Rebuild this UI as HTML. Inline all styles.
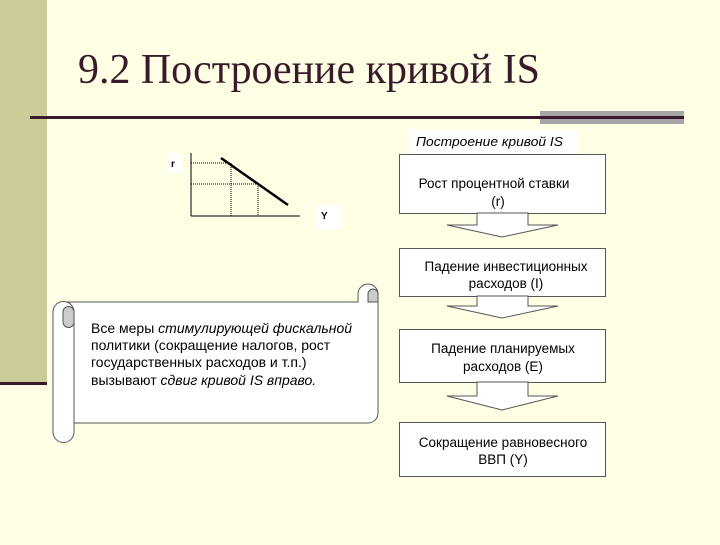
<!DOCTYPE html>
<html><head><meta charset="utf-8"><style>
body{margin:0;width:720px;height:540px;background:#FFFFE5;overflow:hidden;font-family:"Liberation Sans",sans-serif}
</style></head><body>
<svg width="720" height="540" xmlns="http://www.w3.org/2000/svg" font-family="Liberation Sans, sans-serif">
<rect x="0" y="0" width="47" height="383" fill="#CCCC99"/>
<rect x="0" y="382" width="47" height="3" fill="#3A1A2A"/>
<text x="78" y="83" font-family="Liberation Serif, serif" font-size="42" fill="#3A1A2A" textLength="462" lengthAdjust="spacingAndGlyphs">9.2 Построение кривой IS</text>
<rect x="540" y="111" width="144" height="13" fill="#A6A6A6"/>
<rect x="30" y="116" width="654" height="3" fill="#3A1A2A"/>
<rect x="167" y="153" width="15" height="20" fill="#fff"/>
<text x="171" y="167" font-size="10" font-weight="bold">r</text>
<rect x="315" y="205" width="26" height="24" fill="#fff"/>
<text x="321" y="219" font-size="10" font-weight="bold">Y</text>
<line x1="191" y1="153" x2="191" y2="216" stroke="#000"/>
<line x1="191" y1="216" x2="300" y2="216" stroke="#000"/>
<line x1="191" y1="163" x2="231" y2="163" stroke="#000" stroke-dasharray="1,1"/>
<line x1="191" y1="184" x2="258" y2="184" stroke="#000" stroke-dasharray="1,1"/>
<line x1="231" y1="163" x2="231" y2="216" stroke="#000" stroke-dasharray="1,1"/>
<line x1="258" y1="184" x2="258" y2="216" stroke="#000" stroke-dasharray="1,1"/>
<line x1="221" y1="158" x2="288" y2="205" stroke="#000" stroke-width="2.5"/>
<rect x="410" y="130" width="168" height="24" fill="#fff"/>
<text x="416" y="146" font-size="13" font-style="italic" textLength="147" lengthAdjust="spacingAndGlyphs">Построение кривой IS</text>
<g fill="#fff" stroke="#555" stroke-width="1">
<rect x="399.5" y="154.5" width="206" height="59"/>
<rect x="399.5" y="248.5" width="206" height="48"/>
<rect x="399.5" y="329.5" width="206" height="53"/>
<rect x="399.5" y="422.5" width="206" height="54"/>
<polygon points="477,213 528,213 528,225 558,225 502,237 447,225 477,225"/>
<polygon points="477,296 528,296 528,306 558,306 502,318 447,306 477,306"/>
<polygon points="477,382 528,382 528,396 558,396 502,410 447,396 477,396"/>
</g>
<g font-size="13.5" text-anchor="middle" fill="#000">
<text x="494" y="188">Рост процентной ставки</text>
<text x="498" y="206">(r)</text>
<text x="506" y="271">Падение инвестиционных</text>
<text x="506" y="288">расходов (I)</text>
<text x="503" y="353">Падение планируемых</text>
<text x="503" y="371">расходов (E)</text>
<text x="503" y="447">Сокращение равновесного</text>
<text x="503" y="464">ВВП (Y)</text>
</g>
<g fill="#fff" stroke="#555" stroke-width="1">
<path d="M64,302 L358,302 L358,294 A10,10 0 0 1 378,294 L378,413 A10,10 0 0 1 368,423 L74,423 Z"/>
<path d="M53,312 A10,10 0 0 1 74,312 L74,432 A10,10 0 0 1 53,432 Z"/>
<path d="M63,312 A5.5,5.5 0 0 1 74,312 L74,322 A5.5,5.5 0 0 1 63,322 Z" fill="#ccc"/>
<path d="M368,294 A5,5 0 0 1 378,294 L378,302 L368,302 Z" fill="#ccc"/>
</g>
<g font-size="14" fill="#000">
<text x="91" y="333">Все меры <tspan font-style="italic">стимулирующей фискальной</tspan></text>
<text x="91" y="350">политики (сокращение налогов, рост</text>
<text x="91" y="367">государственных расходов и т.п.)</text>
<text x="91" y="385">вызывают <tspan font-style="italic">сдвиг кривой IS вправо.</tspan></text>
</g>
</svg>
</body></html>
